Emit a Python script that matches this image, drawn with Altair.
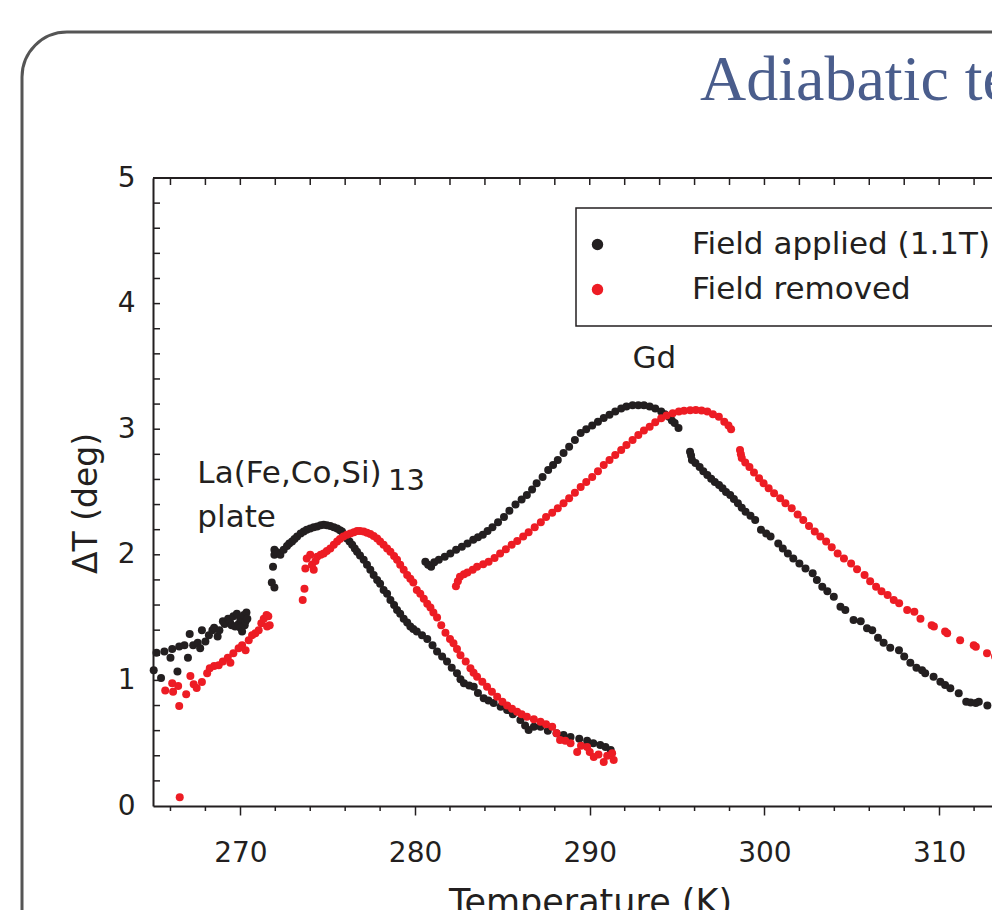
import altair as alt
import pandas as pd

# ---------------- data ----------------
APPLIED = "Field applied (1.1T)"
REMOVED = "Field removed"

la_applied_T = [265.04, 265.2, 265.46, 265.65, 266.0, 266.1, 266.4, 266.5, 266.8, 267.0,
                267.1, 267.3, 267.56, 267.7, 267.8, 268.0, 268.2, 268.4, 268.5, 268.7,
                268.8, 269.0, 269.1, 269.3, 269.4, 269.5, 269.6, 269.7, 269.8, 269.9,
                270.0, 270.0, 270.1, 270.2, 270.25, 270.3, 270.35, 270.4,
                271.8, 271.87, 271.95, 271.95, 271.95, 272.1, 272.29, 272.48, 272.67, 272.8,
                272.96, 273.1, 273.25, 273.45, 273.63, 273.8, 274.0, 274.2, 274.4, 274.6,
                274.77, 274.95, 275.15, 275.35, 275.54, 275.7, 275.82, 275.95, 276.1, 276.25,
                276.4, 276.55, 276.68, 276.85, 277.06, 277.25, 277.44, 277.63, 277.83, 278.0,
                278.2, 278.4, 278.59, 278.8, 278.97, 279.15, 279.35, 279.55, 279.73, 279.9,
                280.1, 280.4, 280.7, 281.0, 281.26, 281.55, 281.83, 282.1, 282.4, 282.6,
                282.8, 283.1, 283.36, 283.6, 283.93, 284.2, 284.5, 284.9, 285.27, 285.6,
                286.03, 286.3, 286.5, 286.8, 287.18, 287.6, 288.1, 288.5, 288.9, 289.4,
                289.85, 290.2, 290.6, 290.9, 291.2]
la_applied_dT = [1.08, 1.22, 1.02, 1.23, 1.18, 1.25, 1.07, 1.27, 1.28, 1.18,
                 1.37, 1.28, 1.30, 1.255, 1.40, 1.31, 1.36, 1.40, 1.42, 1.35,
                 1.40, 1.47, 1.45, 1.49, 1.47, 1.44, 1.51, 1.43, 1.53, 1.45,
                 1.49, 1.42, 1.39, 1.52, 1.44, 1.47, 1.54, 1.49,
                 1.78, 1.905, 1.74, 2.04, 2.0, 2.02, 2.0, 2.04, 2.07, 2.09,
                 2.105, 2.125, 2.145, 2.17, 2.185, 2.2, 2.21, 2.22, 2.225, 2.235,
                 2.24, 2.235, 2.23, 2.22, 2.21, 2.195, 2.185, 2.16, 2.13, 2.105,
                 2.08, 2.05, 2.025, 1.995, 1.96, 1.92, 1.88, 1.84, 1.80, 1.77,
                 1.72, 1.69, 1.64, 1.60, 1.56, 1.53, 1.49, 1.46, 1.43, 1.41,
                 1.39, 1.36, 1.33, 1.28, 1.23, 1.19, 1.15, 1.10, 1.056, 1.01,
                 0.977, 0.96, 0.95, 0.90, 0.857, 0.84, 0.82, 0.79, 0.764, 0.73,
                 0.685, 0.64, 0.605, 0.63, 0.63, 0.60, 0.58, 0.565, 0.55, 0.535,
                 0.52, 0.50, 0.486, 0.47, 0.446]

gd_applied_T = [280.59, 280.75, 280.92, 281.1, 281.36, 281.7, 282.02, 282.35, 282.68, 283.0,
                283.33, 283.6, 283.88, 284.15, 284.43, 284.75, 285.09, 285.4, 285.75, 286.1,
                286.4, 286.7, 286.96, 287.3, 287.62, 287.9, 288.17, 288.5, 288.82, 289.15,
                289.48, 289.8, 290.14, 290.47, 290.8, 291.13, 291.46, 291.8, 292.1, 292.45,
                292.78, 293.1, 293.43, 293.75, 294.09, 294.3, 294.53, 294.7, 294.86, 295.08,
                295.74, 295.8, 295.85, 296.05, 296.29, 296.5, 296.73, 296.95, 297.16, 297.4,
                297.6, 297.8, 298.04, 298.25, 298.48, 298.7, 298.92, 299.2, 299.47, 299.8,
                300.1, 300.35, 300.79, 301.05, 301.34, 301.65, 302.0, 302.35, 302.76, 303.0,
                303.31, 303.6, 303.97, 304.35, 304.63, 305.1, 305.51, 305.87, 306.17, 306.5,
                306.82, 307.2, 307.7, 308.0, 308.35, 308.7, 309.02, 309.2, 309.68, 310.07,
                310.34, 310.64, 311.12, 311.55, 311.8, 312.1, 312.27, 312.76]
gd_applied_dT = [1.945, 1.92, 1.905, 1.94, 1.96, 1.985, 2.01, 2.04, 2.065, 2.09,
                 2.12, 2.14, 2.16, 2.19, 2.22, 2.26, 2.30, 2.35, 2.40, 2.44,
                 2.476, 2.52, 2.57, 2.62, 2.675, 2.715, 2.755, 2.81, 2.86, 2.915,
                 2.97, 3.0, 3.03, 3.06, 3.09, 3.115, 3.14, 3.165, 3.18, 3.19,
                 3.19, 3.19, 3.18, 3.165, 3.14, 3.12, 3.10, 3.07, 3.05, 3.01,
                 2.82, 2.79, 2.755, 2.73, 2.70, 2.665, 2.635, 2.605, 2.58, 2.555,
                 2.53, 2.50, 2.476, 2.445, 2.41, 2.375, 2.343, 2.31, 2.277, 2.2,
                 2.17, 2.145, 2.09, 2.05, 2.01, 1.97, 1.93, 1.89, 1.853, 1.80,
                 1.746, 1.71, 1.666, 1.587, 1.56, 1.48, 1.47, 1.415, 1.40, 1.34,
                 1.30, 1.26, 1.24, 1.19, 1.14, 1.10, 1.08, 1.056, 1.03, 0.99,
                 0.963, 0.937, 0.897, 0.83, 0.825, 0.82, 0.83, 0.80]

la_removed_T = [265.7, 266.1, 266.15, 266.44, 266.5, 266.53, 266.9, 267.14, 267.33, 267.5,
                267.8, 268.1, 268.25, 268.5, 268.76, 269.0, 269.28, 269.43, 269.6, 269.9,
                270.1, 270.3, 270.48, 270.67, 270.86, 271.05, 271.2, 271.34, 271.5, 271.6,
                271.68, 271.53,
                273.57, 273.67, 273.72, 273.8, 274.0, 274.2, 274.1, 274.3, 274.4, 274.6,
                274.77, 274.95, 275.15, 275.35, 275.54, 275.7, 275.9, 276.1, 276.3, 276.5,
                276.68, 276.85, 277.06, 277.25, 277.44, 277.63, 277.83, 278.0, 278.2, 278.4,
                278.59, 278.8, 278.97, 279.15, 279.35, 279.55, 279.73, 279.9, 280.1, 280.3,
                280.5, 280.7, 280.88, 281.05, 281.26, 281.5, 281.74, 282.0, 282.2, 282.4,
                282.6, 282.9, 283.17, 283.35, 283.55, 283.85, 284.12, 284.4, 284.7, 285.0,
                285.27, 285.55, 285.84, 286.1, 286.4, 286.8, 287.18, 287.5, 287.85, 288.1,
                288.3, 288.6, 288.9, 289.28, 289.5, 289.85, 290.0, 290.23, 290.5, 290.8,
                291.0, 291.28, 291.37]
la_removed_dT = [0.92, 0.977, 0.91, 0.955, 0.796, 0.069, 0.889, 1.035, 0.97, 0.94,
                 0.987, 1.056, 1.096, 1.115, 1.12, 1.15, 1.18, 1.14, 1.216, 1.255,
                 1.28, 1.24, 1.32, 1.36, 1.375, 1.40, 1.455, 1.49, 1.52, 1.51,
                 1.44, 1.43,
                 1.64, 1.73, 1.89, 1.97, 2.0, 1.88, 1.92, 1.95, 1.985, 2.0,
                 2.01, 2.03, 2.05, 2.08, 2.105, 2.125, 2.145, 2.16, 2.17, 2.18,
                 2.19, 2.19, 2.185, 2.175, 2.165, 2.15, 2.13, 2.105, 2.08, 2.05,
                 2.025, 1.99, 1.96, 1.92, 1.88, 1.84, 1.81, 1.78, 1.72, 1.69,
                 1.65, 1.61, 1.58, 1.54, 1.50, 1.44, 1.38, 1.33, 1.295, 1.25,
                 1.20, 1.15, 1.096, 1.06, 1.03, 0.99, 0.95, 0.91, 0.87, 0.83,
                 0.80, 0.775, 0.75, 0.73, 0.71, 0.69, 0.67, 0.65, 0.63, 0.58,
                 0.525, 0.52, 0.50, 0.43, 0.48, 0.47, 0.43, 0.39, 0.41, 0.35,
                 0.40, 0.42, 0.366]

gd_removed_T = [282.34, 282.45, 282.57, 282.8, 283.0, 283.3, 283.55, 283.9, 284.21, 284.55,
                284.87, 285.2, 285.53, 285.85, 286.19, 286.5, 286.85, 287.2, 287.5, 287.85,
                288.17, 288.5, 288.82, 289.15, 289.48, 289.8, 290.14, 290.47, 290.8, 291.13,
                291.46, 291.8, 292.1, 292.45, 292.78, 293.1, 293.43, 293.75, 294.09, 294.4,
                294.75, 295.1, 295.4, 295.75, 296.07, 296.4, 296.73, 297.05, 297.39, 297.7,
                297.94, 298.09,
                298.6, 298.65, 298.7, 298.9, 299.14, 299.4, 299.69, 299.95, 300.24, 300.55,
                300.9, 301.2, 301.56, 301.9, 302.22, 302.55, 302.88, 303.2, 303.53, 303.85,
                304.19, 304.55, 304.96, 305.3, 305.73, 306.05, 306.39, 306.7, 307.05, 307.4,
                307.71, 308.17, 308.58, 308.93, 309.57, 309.7, 310.34, 310.46, 311.2, 311.98,
                312.1, 312.74, 313.2]
gd_removed_dT = [1.75, 1.79, 1.826, 1.845, 1.86, 1.88, 1.905, 1.925, 1.945, 1.975,
                 2.01, 2.045, 2.08, 2.11, 2.145, 2.18, 2.22, 2.26, 2.30, 2.335,
                 2.37, 2.41, 2.45, 2.495, 2.54, 2.58, 2.62, 2.665, 2.715, 2.755,
                 2.795, 2.835, 2.874, 2.915, 2.954, 2.99, 3.02, 3.055, 3.087, 3.11,
                 3.127, 3.14, 3.147, 3.15, 3.153, 3.148, 3.14, 3.12, 3.10, 3.06,
                 3.03, 3.0,
                 2.834, 2.80, 2.77, 2.735, 2.70, 2.655, 2.61, 2.57, 2.53, 2.49,
                 2.45, 2.41, 2.37, 2.32, 2.277, 2.23, 2.185, 2.145, 2.105, 2.06,
                 2.01, 1.97, 1.93, 1.885, 1.84, 1.79, 1.746, 1.71, 1.68, 1.64,
                 1.614, 1.56, 1.547, 1.49, 1.44, 1.43, 1.39, 1.375, 1.32, 1.28,
                 1.268, 1.216, 1.19]

x_label_values = [270, 280, 290, 300, 310]
x_small_ticks = [266, 268, 272, 274, 276, 278, 282, 284, 286, 288, 292, 294, 296, 298,
                 302, 304, 306, 308, 312]
x_top_ticks = [266, 268, 270, 272, 274, 276, 278, 280, 282, 284, 286, 288, 290, 292, 294,
               296, 298, 300, 302, 304, 306, 308, 310, 312]
y_label_values = [0, 1, 2, 3, 4, 5]
y_ticks = [0.2, 0.4, 0.6, 0.8, 1.0, 1.2, 1.4, 1.6, 1.8, 2.0, 2.2, 2.4, 2.6, 2.8, 3.0,
           3.2, 3.4, 3.6, 3.8, 4.0, 4.2, 4.4, 4.6, 4.8]

ann_T = [267.54, 267.54, 292.44]
ann_dT = [2.572, 2.221, 3.487]
ann_text = ["La(Fe,Co,Si)", "plate", "Gd"]
sub_T = [278.45]
sub_dT = [2.516]
sub_text = ["13"]

slide_title = "Adiabatic temperature change"

# ---------------- build tables ----------------
rows = []
for T, d in zip(la_applied_T + gd_applied_T, la_applied_dT + gd_applied_dT):
    rows.append({"T": T, "dT": d, "series": APPLIED})
for T, d in zip(la_removed_T + gd_removed_T, la_removed_dT + gd_removed_dT):
    rows.append({"T": T, "dT": d, "series": REMOVED})
df = pd.DataFrame(rows)

W, H = 839, 628
FONT = "DejaVu Sans"
INK = "#231f20"

xscale = alt.Scale(domain=[265, 313.025], nice=False, zero=False)
yscale = alt.Scale(domain=[0, 5], nice=False, zero=False)

xaxis = alt.Axis(values=x_label_values, title="Temperature (K)", grid=False,
                 domainColor=INK, domainWidth=2, tickColor=INK, tickWidth=1.5, tickSize=9,
                 labelFont=FONT, labelFontSize=28, labelColor=INK, labelPadding=24,
                 titleFont=FONT, titleFontSize=35, titleFontWeight="normal", titleColor=INK,
                 titleX=437, titleY=79, titleBaseline="top", titleAlign="center")
yaxis = alt.Axis(values=y_label_values, title="ΔT (deg)", grid=False,
                 domainColor=INK, domainWidth=2, ticks=False, tickSize=0,
                 labelFont=FONT, labelFontSize=28, labelColor=INK, labelPadding=18,
                 titleFont=FONT, titleFontSize=33, titleFontWeight="normal", titleColor=INK,
                 titleAngle=270, titleX=-67, titleY=325, titleBaseline="middle",
                 titleAlign="center")


def X(field="T"):
    return alt.X(f"{field}:Q", scale=xscale, axis=xaxis)


def Y(field="dT"):
    return alt.Y(f"{field}:Q", scale=yscale, axis=yaxis)


one = pd.DataFrame({"k": [0]})

frame = alt.Chart(one).mark_rect(filled=False, stroke="#555555", strokeWidth=3,
                                 cornerRadius=45).encode(
    x=alt.value(-131), x2=alt.value(W + 120), y=alt.value(-146), y2=alt.value(H + 300))

title = alt.Chart(pd.DataFrame({"t": [slide_title]})).mark_text(
    font="Liberation Serif", fontSize=64, color="#4a5d8c", align="left",
    baseline="alphabetic").encode(x=alt.value(547), y=alt.value(-78), text="t:N")

top_border = alt.Chart(one).mark_rule(color=INK, strokeWidth=2).encode(
    x=alt.value(0), x2=alt.value(W), y=alt.value(0))

top_ticks = alt.Chart(pd.DataFrame({"T": x_top_ticks})).mark_rule(
    color=INK, strokeWidth=1.5).encode(x=X(), y=alt.value(0), y2=alt.value(7))

bottom_ticks = alt.Chart(pd.DataFrame({"T": x_small_ticks})).mark_rule(
    color=INK, strokeWidth=1.5).encode(x=X(), y=alt.value(H), y2=alt.value(H + 5))

left_ticks = alt.Chart(pd.DataFrame({"dT": y_ticks})).mark_rule(
    color=INK, strokeWidth=1.5).encode(y=Y(), x=alt.value(0), x2=alt.value(7))

points = alt.Chart(df).mark_circle(size=64, opacity=1).encode(
    x=X(), y=Y(),
    color=alt.Color("series:N",
                    scale=alt.Scale(domain=[APPLIED, REMOVED], range=[INK, "#ed1c24"]),
                    legend=alt.Legend(orient="none", legendX=423, legendY=30, title=None,
                                      strokeColor=INK, fillColor="white", padding=21,
                                      labelOffset=79, symbolOffset=-15, symbolSize=130,
                                      symbolType="circle",
                                      labelFont=FONT, labelFontSize=31, labelColor=INK,
                                      labelLimit=600, rowPadding=13)))

ann = alt.Chart(pd.DataFrame({"T": ann_T, "dT": ann_dT, "label": ann_text})).mark_text(
    font=FONT, fontSize=31, color=INK, align="left", baseline="alphabetic").encode(
    x=X(), y=Y(), text="label:N")

sub = alt.Chart(pd.DataFrame({"T": sub_T, "dT": sub_dT, "label": sub_text})).mark_text(
    font=FONT, fontSize=29, color=INK, align="left", baseline="alphabetic").encode(
    x=X(), y=Y(), text="label:N")

chart = alt.layer(frame, title, top_border, top_ticks, bottom_ticks, left_ticks,
                  points, ann, sub).properties(
    width=W, height=H,
    padding={"left": 145, "top": 170, "right": 0, "bottom": 104},
    autosize=alt.AutoSizeParams(type="none"),
    background="white",
).configure_view(strokeWidth=0).configure_legend(strokeWidth=1.5)

chart.save("out.html", embed_options={"renderer": "svg", "actions": False})
